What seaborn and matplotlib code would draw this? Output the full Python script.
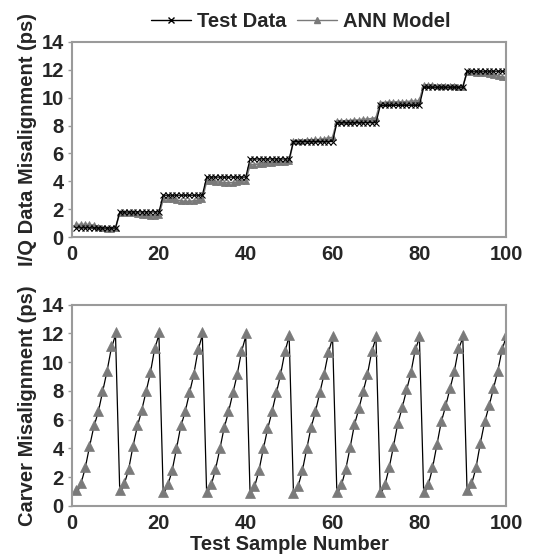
import numpy as np
import pandas as pd
import matplotlib
matplotlib.use("Agg")
import matplotlib.pyplot as plt
import seaborn as sns
from matplotlib.lines import Line2D

# ----------------------------------------------------------
# DATA
# ----------------------------------------------------------

sample_number = list(range(1, 101))

iq_test = [
    0.65, 0.65, 0.65, 0.65, 0.65, 0.65, 0.65, 0.65, 0.65, 0.65,
    1.8, 1.8, 1.8, 1.8, 1.8, 1.8, 1.8, 1.8, 1.8, 1.8,
    3.0, 3.0, 3.0, 3.0, 3.0, 3.0, 3.0, 3.0, 3.0, 3.0,
    4.3, 4.3, 4.3, 4.3, 4.3, 4.3, 4.3, 4.3, 4.3, 4.3,
    5.6, 5.6, 5.6, 5.6, 5.6, 5.6, 5.6, 5.6, 5.6, 5.6,
    6.85, 6.85, 6.85, 6.85, 6.85, 6.85, 6.85, 6.85, 6.85, 6.85,
    8.2, 8.2, 8.2, 8.2, 8.2, 8.2, 8.2, 8.2, 8.2, 8.2,
    9.45, 9.45, 9.45, 9.45, 9.45, 9.45, 9.45, 9.45, 9.45, 9.45,
    10.75, 10.75, 10.75, 10.75, 10.75, 10.75, 10.75, 10.75, 10.75, 10.75,
    11.9, 11.9, 11.9, 11.9, 11.9, 11.9, 11.9, 11.9, 11.9, 11.9,
]

iq_ann = [
    0.9, 0.9, 0.9, 0.9, 0.85, 0.75, 0.65, 0.6, 0.6, 0.65,
    1.75, 1.75, 1.7, 1.7, 1.65, 1.6, 1.55, 1.5, 1.5, 1.55,
    2.75, 2.75, 2.7, 2.65, 2.6, 2.55, 2.55, 2.6, 2.65, 2.75,
    4.0, 4.0, 3.95, 3.95, 3.9, 3.9, 3.9, 3.95, 4.0, 4.05,
    5.2, 5.2, 5.25, 5.25, 5.3, 5.3, 5.35, 5.4, 5.4, 5.45,
    6.9, 6.9, 6.9, 6.95, 6.95, 7.0, 7.0, 7.05, 7.1, 7.15,
    8.3, 8.3, 8.35, 8.35, 8.4, 8.4, 8.45, 8.45, 8.5, 8.55,
    9.65, 9.65, 9.7, 9.7, 9.7, 9.7, 9.7, 9.75, 9.75, 9.8,
    10.9, 10.9, 10.9, 10.85, 10.85, 10.85, 10.85, 10.85, 10.8, 10.8,
    11.85, 11.85, 11.8, 11.8, 11.75, 11.7, 11.65, 11.55, 11.5, 11.45,
]

carver_test = [
    0.8, 1.5, 2.6, 4.1, 5.5, 6.5, 7.9, 9.3, 10.9, 11.9,
    0.8, 1.5, 2.5, 4.1, 5.5, 6.6, 7.9, 9.2, 10.9, 11.9,
    0.8, 1.4, 2.4, 3.9, 5.5, 6.5, 7.8, 9.1, 10.8, 11.9,
    0.8, 1.4, 2.5, 3.9, 5.4, 6.5, 7.8, 9.1, 10.7, 11.8,
    0.8, 1.3, 2.4, 3.9, 5.3, 6.5, 7.8, 9.1, 10.7, 11.8,
    0.8, 1.3, 2.4, 3.9, 5.4, 6.5, 7.8, 9.1, 10.6, 11.7,
    0.8, 1.4, 2.5, 4.0, 5.6, 6.7, 7.9, 9.1, 10.7, 11.7,
    0.8, 1.4, 2.6, 4.1, 5.7, 6.8, 8.0, 9.2, 10.8, 11.7,
    0.8, 1.4, 2.6, 4.2, 5.8, 6.9, 8.1, 9.3, 10.9, 11.7,
    0.8, 1.5, 2.6, 4.3, 5.8, 6.9, 8.1, 9.3, 10.8, 11.8,
]

carver_ann = [
    1.1, 1.6, 2.7, 4.2, 5.6, 6.6, 8.0, 9.4, 11.1, 12.1,
    1.1, 1.6, 2.6, 4.2, 5.6, 6.7, 8.0, 9.3, 11.0, 12.1,
    1.0, 1.5, 2.5, 4.0, 5.6, 6.6, 7.9, 9.2, 10.9, 12.1,
    1.0, 1.5, 2.6, 4.0, 5.5, 6.6, 7.9, 9.2, 10.8, 12.0,
    0.9, 1.4, 2.5, 4.0, 5.4, 6.6, 7.9, 9.2, 10.8, 11.9,
    0.9, 1.4, 2.5, 4.0, 5.5, 6.6, 7.9, 9.2, 10.7, 11.8,
    1.0, 1.5, 2.6, 4.1, 5.7, 6.8, 8.0, 9.2, 10.8, 11.8,
    1.0, 1.5, 2.7, 4.2, 5.8, 6.9, 8.1, 9.3, 10.9, 11.8,
    1.0, 1.5, 2.7, 4.3, 5.9, 7.0, 8.2, 9.4, 11.0, 11.9,
    1.1, 1.6, 2.7, 4.4, 5.9, 7.0, 8.2, 9.4, 10.9, 11.9,
]

# ----------------------------------------------------------
# STYLE
# ----------------------------------------------------------

sns.set_style("white")
plt.rcParams['font.family'] = ['Liberation Sans', 'DejaVu Sans']
plt.rcParams['font.weight'] = 'bold'

gray = '#7a7a7a'
spine_gray = '#9a9a9a'
fs = 14.5

fig = plt.figure(figsize=(5.42, 5.59), dpi=100)
ax1 = fig.add_axes([0.133, 0.576, 0.801, 0.349])
ax2 = fig.add_axes([0.133, 0.095, 0.801, 0.360])

# ----------------------------------------------------------
# TOP PANEL: I/Q DATA MISALIGNMENT
# ----------------------------------------------------------

sns.lineplot(x=sample_number, y=iq_ann, ax=ax1, color=gray, lw=1.2,
             marker='^', markersize=5, markeredgewidth=0.6,
             markeredgecolor=gray)
sns.lineplot(x=sample_number, y=iq_test, ax=ax1, color='black', lw=0.9,
             marker='x', markersize=4.5, markeredgewidth=0.8,
             markeredgecolor='black')

# ----------------------------------------------------------
# BOTTOM PANEL: CARVER MISALIGNMENT
# ----------------------------------------------------------

sns.lineplot(x=sample_number, y=carver_test, ax=ax2, color='black', lw=0.9)
sns.lineplot(x=sample_number, y=carver_ann, ax=ax2, color=gray, lw=0,
             marker='^', markersize=6.5, markeredgewidth=0.5,
             markeredgecolor=gray)

for ax, ylab in [(ax1, "I/Q Data Misalignment (ps)"),
                 (ax2, "Carver Misalignment (ps)")]:
    ax.set_xlim(0, 100)
    ax.set_ylim(0, 14)
    ax.set_xticks(range(0, 101, 20))
    ax.set_yticks(range(0, 15, 2))
    ax.tick_params(axis='both', labelsize=fs, length=3, width=1,
                   color=spine_gray, pad=3, left=True, bottom=False)
    for lab in ax.get_xticklabels() + ax.get_yticklabels():
        lab.set_fontweight('bold')
    for sp in ax.spines.values():
        sp.set_color(spine_gray)
        sp.set_linewidth(1.5)
    ax.set_ylabel(ylab, fontsize=fs, fontweight='bold', labelpad=3)

ax2.set_xlabel("Test Sample Number", fontsize=fs, fontweight='bold',
               labelpad=1)

handles = [
    Line2D([], [], color='black', lw=1, marker='x', markersize=5),
    Line2D([], [], color=gray, lw=1, marker='^', markersize=4),
]
fig.legend(handles, ["Test Data", "ANN Model"], loc='center',
           bbox_to_anchor=(0.555, 0.962), ncol=2, frameon=False,
           handlelength=2.0, handletextpad=0.3, columnspacing=0.5,
           prop={'size': fs, 'weight': 'bold'})

fig.savefig("out.png", dpi=100)
